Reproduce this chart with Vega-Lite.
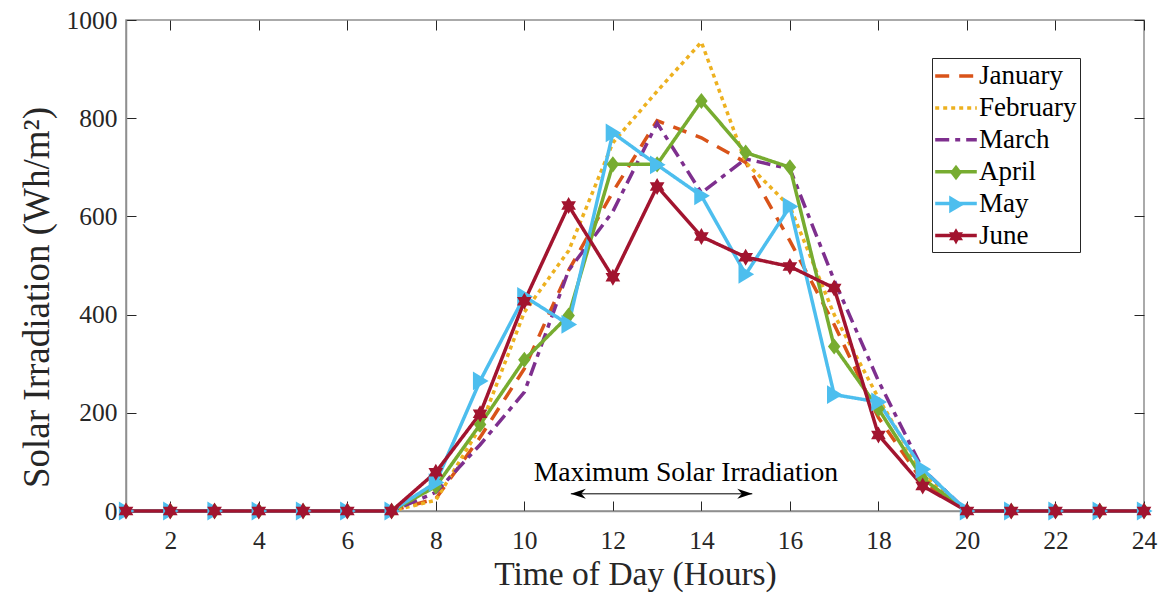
{
  "$schema": "https://vega.github.io/schema/vega-lite/v6.json",
  "width": 1018,
  "height": 491,
  "autosize": {"type": "none"},
  "padding": {"left": 126, "top": 20, "right": 22, "bottom": 82},
  "background": "white",
  "datasets": {
    "irr": [
      {"hour":1,"month":"January","value":0},{"hour":2,"month":"January","value":0},{"hour":3,"month":"January","value":0},{"hour":4,"month":"January","value":0},{"hour":5,"month":"January","value":0},{"hour":6,"month":"January","value":0},{"hour":7,"month":"January","value":0},{"hour":8,"month":"January","value":25},{"hour":9,"month":"January","value":150},{"hour":10,"month":"January","value":290},{"hour":11,"month":"January","value":490},{"hour":12,"month":"January","value":650},{"hour":13,"month":"January","value":795},{"hour":14,"month":"January","value":760},{"hour":15,"month":"January","value":710},{"hour":16,"month":"January","value":550},{"hour":17,"month":"January","value":380},{"hour":18,"month":"January","value":190},{"hour":19,"month":"January","value":60},{"hour":20,"month":"January","value":0},{"hour":21,"month":"January","value":0},{"hour":22,"month":"January","value":0},{"hour":23,"month":"January","value":0},{"hour":24,"month":"January","value":0},
      {"hour":1,"month":"February","value":0},{"hour":2,"month":"February","value":0},{"hour":3,"month":"February","value":0},{"hour":4,"month":"February","value":0},{"hour":5,"month":"February","value":0},{"hour":6,"month":"February","value":0},{"hour":7,"month":"February","value":0},{"hour":8,"month":"February","value":22},{"hour":9,"month":"February","value":170},{"hour":10,"month":"February","value":405},{"hour":11,"month":"February","value":530},{"hour":12,"month":"February","value":750},{"hour":13,"month":"February","value":855},{"hour":14,"month":"February","value":955},{"hour":15,"month":"February","value":710},{"hour":16,"month":"February","value":620},{"hour":17,"month":"February","value":400},{"hour":18,"month":"February","value":230},{"hour":19,"month":"February","value":75},{"hour":20,"month":"February","value":0},{"hour":21,"month":"February","value":0},{"hour":22,"month":"February","value":0},{"hour":23,"month":"February","value":0},{"hour":24,"month":"February","value":0},
      {"hour":1,"month":"March","value":0},{"hour":2,"month":"March","value":0},{"hour":3,"month":"March","value":0},{"hour":4,"month":"March","value":0},{"hour":5,"month":"March","value":0},{"hour":6,"month":"March","value":0},{"hour":7,"month":"March","value":0},{"hour":8,"month":"March","value":38},{"hour":9,"month":"March","value":135},{"hour":10,"month":"March","value":242},{"hour":11,"month":"March","value":490},{"hour":12,"month":"March","value":610},{"hour":13,"month":"March","value":790},{"hour":14,"month":"March","value":648},{"hour":15,"month":"March","value":717},{"hour":16,"month":"March","value":697},{"hour":17,"month":"March","value":470},{"hour":18,"month":"March","value":265},{"hour":19,"month":"March","value":85},{"hour":20,"month":"March","value":0},{"hour":21,"month":"March","value":0},{"hour":22,"month":"March","value":0},{"hour":23,"month":"March","value":0},{"hour":24,"month":"March","value":0},
      {"hour":1,"month":"April","value":0},{"hour":2,"month":"April","value":0},{"hour":3,"month":"April","value":0},{"hour":4,"month":"April","value":0},{"hour":5,"month":"April","value":0},{"hour":6,"month":"April","value":0},{"hour":7,"month":"April","value":0},{"hour":8,"month":"April","value":50},{"hour":9,"month":"April","value":176},{"hour":10,"month":"April","value":308},{"hour":11,"month":"April","value":398},{"hour":12,"month":"April","value":706},{"hour":13,"month":"April","value":706},{"hour":14,"month":"April","value":835},{"hour":15,"month":"April","value":730},{"hour":16,"month":"April","value":700},{"hour":17,"month":"April","value":335},{"hour":18,"month":"April","value":208},{"hour":19,"month":"April","value":66},{"hour":20,"month":"April","value":0},{"hour":21,"month":"April","value":0},{"hour":22,"month":"April","value":0},{"hour":23,"month":"April","value":0},{"hour":24,"month":"April","value":0},
      {"hour":1,"month":"May","value":0},{"hour":2,"month":"May","value":0},{"hour":3,"month":"May","value":0},{"hour":4,"month":"May","value":0},{"hour":5,"month":"May","value":0},{"hour":6,"month":"May","value":0},{"hour":7,"month":"May","value":0},{"hour":8,"month":"May","value":58},{"hour":9,"month":"May","value":265},{"hour":10,"month":"May","value":437},{"hour":11,"month":"May","value":380},{"hour":12,"month":"May","value":770},{"hour":13,"month":"May","value":705},{"hour":14,"month":"May","value":642},{"hour":15,"month":"May","value":482},{"hour":16,"month":"May","value":620},{"hour":17,"month":"May","value":237},{"hour":18,"month":"May","value":222},{"hour":19,"month":"May","value":85},{"hour":20,"month":"May","value":0},{"hour":21,"month":"May","value":0},{"hour":22,"month":"May","value":0},{"hour":23,"month":"May","value":0},{"hour":24,"month":"May","value":0},
      {"hour":1,"month":"June","value":0},{"hour":2,"month":"June","value":0},{"hour":3,"month":"June","value":0},{"hour":4,"month":"June","value":0},{"hour":5,"month":"June","value":0},{"hour":6,"month":"June","value":0},{"hour":7,"month":"June","value":0},{"hour":8,"month":"June","value":79},{"hour":9,"month":"June","value":198},{"hour":10,"month":"June","value":427},{"hour":11,"month":"June","value":622},{"hour":12,"month":"June","value":476},{"hour":13,"month":"June","value":661},{"hour":14,"month":"June","value":559},{"hour":15,"month":"June","value":517},{"hour":16,"month":"June","value":498},{"hour":17,"month":"June","value":454},{"hour":18,"month":"June","value":155},{"hour":19,"month":"June","value":51},{"hour":20,"month":"June","value":0},{"hour":21,"month":"June","value":0},{"hour":22,"month":"June","value":0},{"hour":23,"month":"June","value":0},{"hour":24,"month":"June","value":0}
    ],
    "note": [
      {"start": 11.05, "end": 15.15, "level": 35, "label": "Maximum Solar Irradiation"}
    ]
  },
  "resolve": {"axis": {"x": "independent", "y": "independent"}},
  "layer": [
    {
      "data": {"name": "irr"},
      "mark": {"type": "line", "strokeWidth": 3.5},
      "encoding": {
        "x": {
          "field": "hour", "type": "quantitative",
          "scale": {"domain": [1, 24], "nice": false, "zero": false},
          "axis": {
            "orient": "bottom", "values": [2,4,6,8,10,12,14,16,18,20,22,24],
            "title": "Time of Day (Hours)", "titleFontSize": 33.5,
            "titleBaseline": "alphabetic", "titleY": 73,
            "labelFontSize": 25.5, "tickSize": -10, "labelPadding": 27
          }
        },
        "y": {
          "field": "value", "type": "quantitative",
          "scale": {"domain": [0, 1000], "nice": false},
          "axis": {
            "orient": "left", "values": [0,200,400,600,800,1000], "format": "d",
            "title": "Solar Irradiation (Wh/m²)", "titleFontSize": 37,
            "titleBaseline": "alphabetic", "titleX": -78, "titleY": 277, "titleAngle": -90, "titleAlign": "center",
            "labelFontSize": 25.5, "tickSize": -10, "labelPadding": 19
          }
        },
        "color": {
          "field": "month", "type": "nominal",
          "scale": {
            "domain": ["January","February","March","April","May","June"],
            "range": ["#D95319","#EDB120","#7E2F8E","#77AC30","#4DBEEE","#A2142F"]
          },
          "legend": {
            "title": null, "orient": "none", "legendX": 806, "legendY": 38,
            "symbolType": "M-1.6,0H1.6", "symbolSize": 676, "symbolStrokeWidth": 3.5, "symbolOffset": 6,
            "labelFont": "Liberation Serif", "labelFontSize": 27, "labelColor": "black",
            "labelOffset": 8, "rowPadding": 3.9, "padding": 3,
            "strokeColor": "#262626", "fillColor": "white"
          }
        },
        "strokeDash": {
          "field": "month", "type": "nominal",
          "scale": {
            "domain": ["January","February","March","April","May","June"],
            "range": [[14,10],[4,4],[14,6,5,6],[1,0],[1,0],[1,0]]
          },
          "legend": {
            "title": null, "orient": "none", "legendX": 806, "legendY": 38,
            "symbolType": "M-1.6,0H1.6", "symbolSize": 676, "symbolStrokeWidth": 3.5, "symbolOffset": 6,
            "labelFont": "Liberation Serif", "labelFontSize": 27, "labelColor": "black",
            "labelOffset": 8, "rowPadding": 3.9, "padding": 3,
            "strokeColor": "#262626", "fillColor": "white"
          }
        }
      }
    },
    {
      "data": {"name": "irr"},
      "transform": [{"filter": {"field": "month", "oneOf": ["April","May","June"]}}],
      "mark": {"type": "point", "filled": true, "opacity": 1, "size": 320},
      "encoding": {
        "x": {
          "field": "hour", "type": "quantitative",
          "axis": {"orient": "top", "values": [2,4,6,8,10,12,14,16,18,20,22,24], "labels": false, "title": null, "domain": false, "tickSize": -10}
        },
        "y": {
          "field": "value", "type": "quantitative",
          "axis": {"orient": "right", "values": [0,200,400,600,800,1000], "labels": false, "title": null, "domain": false, "tickSize": -10}
        },
        "fill": {
          "field": "month", "type": "nominal",
          "scale": {"domain": ["April","May","June"], "range": ["#77AC30","#4DBEEE","#A2142F"]},
          "legend": {
            "title": null, "orient": "none", "legendX": 813.5, "legendY": 136,
            "symbolSize": 289, "symbolStrokeWidth": 0,
            "labelFont": "Liberation Serif", "labelFontSize": 27, "labelColor": "transparent", "labelExpr": "' '",
            "labelOffset": 3, "rowPadding": 3.9, "padding": 3
          }
        },
        "shape": {
          "field": "month", "type": "nominal",
          "scale": {
            "domain": ["April","May","June"],
            "range": [
              "M0,-0.9L0.7,0L0,0.9L-0.7,0Z",
              "M-0.8,-1.05L0.95,0L-0.8,1.05Z",
              "M0,-0.95L0.274,-0.475L0.823,-0.475L0.549,0L0.823,0.475L0.274,0.475L0,0.95L-0.274,0.475L-0.823,0.475L-0.549,0L-0.823,-0.475L-0.274,-0.475Z"
            ]
          },
          "legend": {
            "title": null, "orient": "none", "legendX": 813.5, "legendY": 136,
            "symbolSize": 289, "symbolStrokeWidth": 0,
            "labelFont": "Liberation Serif", "labelFontSize": 27, "labelColor": "transparent", "labelExpr": "' '",
            "labelOffset": 3, "rowPadding": 3.9, "padding": 3
          }
        }
      }
    },
    {
      "data": {"name": "note"},
      "mark": {"type": "rule", "color": "black", "strokeWidth": 1},
      "encoding": {
        "x": {"field": "start", "type": "quantitative", "axis": null},
        "x2": {"field": "end"},
        "y": {"field": "level", "type": "quantitative", "axis": null}
      }
    },
    {
      "data": {"name": "note"},
      "mark": {"type": "point", "shape": "M0,0L1,-0.33L0.7,0L1,0.33Z", "filled": true, "color": "black", "opacity": 1, "size": 900},
      "encoding": {
        "x": {"field": "start", "type": "quantitative", "axis": null},
        "y": {"field": "level", "type": "quantitative", "axis": null}
      }
    },
    {
      "data": {"name": "note"},
      "mark": {"type": "point", "shape": "M0,0L-1,-0.33L-0.7,0L-1,0.33Z", "filled": true, "color": "black", "opacity": 1, "size": 900},
      "encoding": {
        "x": {"field": "end", "type": "quantitative", "axis": null},
        "y": {"field": "level", "type": "quantitative", "axis": null}
      }
    },
    {
      "data": {"name": "note"},
      "mark": {"type": "text", "font": "Liberation Serif", "fontSize": 27.7, "color": "black", "align": "center", "baseline": "alphabetic"},
      "encoding": {
        "x": {"datum": 13.65, "type": "quantitative", "axis": null},
        "y": {"datum": 61, "type": "quantitative", "axis": null},
        "text": {"field": "label"}
      }
    }
  ],
  "config": {
    "font": "Liberation Serif",
    "view": {"stroke": "#8f8f8f", "strokeWidth": 1.5},
    "axis": {
      "labelFont": "Liberation Serif", "titleFont": "Liberation Serif",
      "labelColor": "#262626", "titleColor": "#262626", "titleFontWeight": "normal",
      "grid": false, "tickColor": "#262626", "tickWidth": 1,
      "domainColor": "#8f8f8f", "domainWidth": 1.5, "labelFlush": false
    }
  }
}
